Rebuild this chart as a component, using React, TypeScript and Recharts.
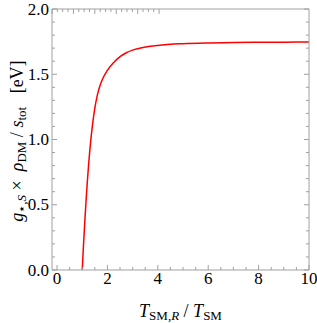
import React from 'react';
import { LineChart, Line, XAxis, YAxis } from 'recharts';

// curve
const tRatio = [1, 1.05, 1.1, 1.15, 1.2, 1.25, 1.3, 1.4, 1.5, 1.6, 1.7, 1.8, 2.0, 2.25, 2.5, 2.75, 3, 3.5, 4, 5, 6, 7, 8, 9, 10];
const yieldEv = [0, 0.19, 0.365, 0.525, 0.67, 0.8, 0.915, 1.1, 1.24, 1.34, 1.41, 1.46, 1.53, 1.59, 1.635, 1.665, 1.685, 1.708, 1.721, 1.734, 1.74, 1.743, 1.745, 1.746, 1.747];

const xMajor = [0, 2, 4, 6, 8, 10];
const xTicks = [0, 0.5, 1, 1.5, 2, 2.5, 3, 3.5, 4, 4.5, 5, 5.5, 6, 6.5, 7, 7.5, 8, 8.5, 9, 9.5, 10];
const yMajor = [0, 0.5, 1, 1.5, 2];
const yTicks = [0, 0.1, 0.2, 0.3, 0.4, 0.5, 0.6, 0.7, 0.8, 0.9, 1, 1.1, 1.2, 1.3, 1.4, 1.5, 1.6, 1.7, 1.8, 1.9, 2];

const data = tRatio.map((t, i) => ({ t, y: yieldEv[i] }));

const FONT = '"Liberation Serif", "DejaVu Serif", serif';
const FRAME = '#a0a0a0';
const X_DOMAIN: [number, number] = [-0.2, 10];
const Y_DOMAIN: [number, number] = [0, 2];
const MAJOR = 5;
const MINOR = 3;

const isMajor = (list: number[], v: number) => list.some((m) => Math.abs(m - v) < 1e-6);

// frame ticks point inwards, labels only on bottom/left
const makeTick = (side: 'bottom' | 'top' | 'left' | 'right') => (props: any) => {
  const { x, y, payload } = props;
  const v = payload.value as number;
  const major = isMajor(side === 'bottom' || side === 'top' ? xMajor : yMajor, v);
  const len = major ? MAJOR : MINOR;
  let line;
  if (side === 'bottom') line = <line x1={x} y1={y} x2={x} y2={y - len} stroke={FRAME} />;
  else if (side === 'top') line = <line x1={x} y1={y} x2={x} y2={y + len} stroke={FRAME} />;
  else if (side === 'left') line = <line x1={x} y1={y} x2={x + len} y2={y} stroke={FRAME} />;
  else line = <line x1={x} y1={y} x2={x - len} y2={y} stroke={FRAME} />;
  return (
    <g>
      {line}
      {side === 'bottom' && major && (
        <text x={x} y={y + 14} textAnchor="middle" fontFamily={FONT} fontSize={17} fill="#000">
          {v}
        </text>
      )}
      {side === 'left' && major && (
        <text x={x - 3} y={y + 5.5} textAnchor="end" fontFamily={FONT} fontSize={17} fill="#000">
          {v.toFixed(1)}
        </text>
      )}
    </g>
  );
};

const XTitle = (props: any) => {
  const { viewBox } = props;
  const cx = viewBox.x + viewBox.width / 2;
  return (
    <text x={cx} y={317} textAnchor="middle" fontFamily={FONT} fontSize={18} fill="#000">
      <tspan fontStyle="italic">T</tspan>
      <tspan fontSize={13} dy={3}>SM,</tspan>
      <tspan fontSize={13} fontStyle="italic">R</tspan>
      <tspan dy={-3}>{'\u00a0/\u00a0'}</tspan>
      <tspan fontStyle="italic">T</tspan>
      <tspan fontSize={13} dy={3}>SM</tspan>
    </text>
  );
};

const YTitle = () => (
  <text
    x={23}
    y={141}
    transform="rotate(-90 23 141)"
    textAnchor="middle"
    fontFamily={FONT}
    fontSize={18}
    fill="#000"
  >
    <tspan fontStyle="italic">g</tspan>
    <tspan fontSize={13} dy={3}>{'\u22c6,'}</tspan>
    <tspan fontSize={13} fontStyle="italic">S</tspan>
    <tspan dy={-3}>{'\u00a0\u00d7\u00a0\u00a0'}</tspan>
    <tspan fontStyle="italic">ρ</tspan>
    <tspan fontSize={13} dy={3}>DM</tspan>
    <tspan dy={-3}>{'\u00a0/\u00a0'}</tspan>
    <tspan fontStyle="italic">s</tspan>
    <tspan fontSize={13} dy={3}>tot</tspan>
    <tspan dy={-3}>{'\u00a0\u00a0\u00a0[eV]'}</tspan>
  </text>
);

export default function App() {
  return (
    <div style={{ position: 'absolute', left: 0, top: 0, background: '#fff' }}>
      <LineChart width={317} height={323} data={data} margin={{ top: 8, right: 7, bottom: 52, left: 51 }}>
        <XAxis
          xAxisId="b"
          dataKey="t"
          type="number"
          domain={X_DOMAIN}
          allowDataOverflow
          ticks={xTicks}
          interval={0}
          height={1}
          tickSize={0}
          tickMargin={0}
          tickLine={false}
          tick={makeTick('bottom')}
          axisLine={{ stroke: FRAME }}
          label={<XTitle />}
        />
        <XAxis
          xAxisId="t"
          orientation="top"
          type="number"
          domain={X_DOMAIN}
          allowDataOverflow
          ticks={xTicks}
          interval={0}
          height={1}
          tickSize={0}
          tickMargin={0}
          tickLine={false}
          tick={makeTick('top')}
          axisLine={{ stroke: FRAME }}
        />
        <YAxis
          yAxisId="l"
          type="number"
          domain={Y_DOMAIN}
          allowDataOverflow
          ticks={yTicks}
          interval={0}
          width={1}
          tickSize={0}
          tickMargin={0}
          tickLine={false}
          tick={makeTick('left')}
          axisLine={{ stroke: FRAME }}
          label={<YTitle />}
        />
        <YAxis
          yAxisId="r"
          orientation="right"
          type="number"
          domain={Y_DOMAIN}
          allowDataOverflow
          ticks={yTicks}
          interval={0}
          width={1}
          tickSize={0}
          tickMargin={0}
          tickLine={false}
          tick={makeTick('right')}
          axisLine={{ stroke: FRAME }}
        />
        <Line
          xAxisId="b"
          yAxisId="l"
          type="monotone"
          dataKey="y"
          stroke="#ff0000"
          strokeWidth={1.5}
          dot={false}
          isAnimationActive={false}
        />
      </LineChart>
    </div>
  );
}
